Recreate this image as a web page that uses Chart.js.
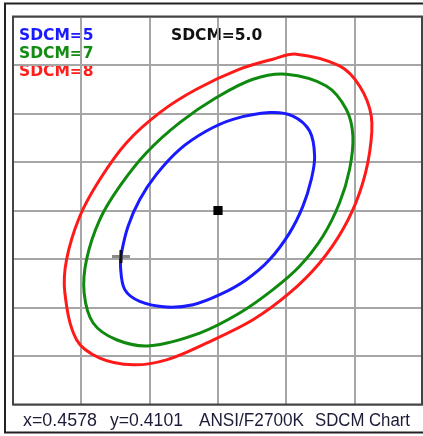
<!DOCTYPE html>
<html>
<head>
<meta charset="utf-8">
<script src="https://cdn.jsdelivr.net/npm/chart.js@4/dist/chart.umd.min.js"></script>
<style>
  html, body { margin: 0; padding: 0; background: #fff; }
  #wrap { width: 423px; height: 436px; }
</style>
</head>
<body>
<div id="wrap"><canvas id="chart" width="423" height="436"></canvas></div>
<script>
// axes are in grid cells, the target point sits at (0, 0)
const footerTexts = ["x=0.4578", "y=0.4101", "ANSI/F2700K", "SDCM Chart"];
const centreLabel = "SDCM=5.0";
const legendLabels = ["SDCM=5", "SDCM=7", "SDCM=8"];
const legendColors = ["#1a1aff", "#148c14", "#ff1e1e"];

const sdcm5X = [0.756, 1.096, 1.341, 1.414, 1.365, 1.243, 1.048, 0.756, 0.415, 0.025, -0.365,
  -0.754, -1.145, -1.364, -1.427, -1.412, -1.316, -1.145, -0.901, -0.560, -0.170, 0.219];
const sdcm5Y = [2.019, 1.948, 1.638, 1.122, 0.640, 0.089, -0.461, -1.012, -1.426, -1.736, -1.942,
  -1.990, -1.874, -1.632, -1.151, -0.874, -0.324, 0.227, 0.744, 1.260, 1.638, 1.880];

const sdcm7X = [1.000, 1.585, 1.877, 1.974, 1.925, 1.779, 1.535, 1.194, 0.804, 0.317, -0.268,
  -0.999, -1.485, -1.827, -1.959, -1.924, -1.730, -1.437, -1.047, -0.560, -0.023, 0.512];
const sdcm7Y = [2.810, 2.568, 2.087, 1.535, 0.847, 0.159, -0.531, -1.151, -1.632, -2.114, -2.527,
  -2.789, -2.665, -2.320, -1.700, -1.012, -0.186, 0.502, 1.192, 1.812, 2.329, 2.707];

const sdcm8X = [1.146, 1.779, 2.072, 2.243, 2.218, 2.072, 1.827, 1.487, 1.048, 0.512, -0.170, -0.754,
  -1.243, -1.730, -2.070, -2.241, -2.216, -2.022, -1.730, -1.339, -0.852, -0.316, 0.317, 0.804];
const sdcm8Y = [3.223, 2.981, 2.568, 1.948, 1.192, 0.366, -0.393, -1.081, -1.700, -2.252, -2.733, -3.079,
  -3.182, -3.043, -2.665, -1.700, -1.012, -0.118, 0.640, 1.399, 2.019, 2.500, 2.913, 3.120];

const targetPoint = [0, 0];
const measuredPoint = [-1.42, -0.95];

function ellipse(xs, ys, color, order) {
  return {
    data: xs.map((x, i) => ({x, y: ys[i]})),
    showLine: true,
    closed: true,
    borderColor: color,
    borderWidth: 3,
    pointRadius: 0,
    tension: 0.35,
    fill: false,
    order,
  };
}

// make the ellipse lines closed loops, like the radar chart does
const closeLoops = {
  id: "closeLoops",
  beforeDatasetDraw(chart, args) {
    const line = args.meta.dataset;
    const ds = chart.data.datasets[args.index];
    if (!line || !ds.closed) return;
    line._loop = true;
    line._fullLoop = true;
    line._pointsUpdated = false;
    line._path = undefined;
    delete line._segments;
    line.updateControlPoints(chart.chartArea, "x");
  },
};

const decorations = {
  id: "decorations",
  beforeDraw(chart) {
    const ctx = chart.ctx;
    ctx.save();
    ctx.font = 'bold 15.5px "DejaVu Sans"';
    legendLabels.forEach((label, i) => {
      ctx.fillStyle = legendColors[i];
      ctx.fillText(label, 19, 40 + i * 18);
    });
    ctx.fillStyle = "#111";
    ctx.fillText(centreLabel, 171, 40);
    ctx.restore();
  },
  afterDraw(chart) {
    const ctx = chart.ctx;
    ctx.save();
    // plot frame
    ctx.strokeStyle = "#444";
    ctx.lineWidth = 2;
    ctx.strokeRect(13, 16.5, 409, 388);
    // outer frame
    ctx.strokeStyle = "#222";
    ctx.beginPath();
    ctx.moveTo(430, 3.5);
    ctx.lineTo(5, 3.5);
    ctx.lineTo(5, 432.5);
    ctx.lineTo(430, 432.5);
    ctx.stroke();
    // footer
    ctx.font = '18px "Liberation Sans"';
    ctx.fillStyle = "#1c1c38";
    const starts = [23, 110, 199, 315];
    const widths = [74, 73, 105, 95];
    footerTexts.forEach((t, i) => ctx.fillText(t, starts[i], 425.5, widths[i]));
    ctx.restore();
  },
};

const gridOpts = {color: "#a6a6a6", lineWidth: 2, drawTicks: false};

new Chart(document.getElementById("chart"), {
  type: "scatter",
  data: {
    datasets: [
      {
        data: [{x: targetPoint[0], y: targetPoint[1]}],
        pointStyle: "rect",
        pointRadius: 6.5,
        backgroundColor: "#000",
        borderWidth: 0,
        order: 0,
      },
      {
        data: [{x: measuredPoint[0], y: measuredPoint[1]}],
        pointStyle: "line",
        pointRadius: 6.5,
        pointRotation: 90,
        borderColor: "#111",
        borderWidth: 3,
        order: 0,
      },
      {
        data: [{x: measuredPoint[0], y: measuredPoint[1]}],
        pointStyle: "line",
        pointRadius: 9,
        borderColor: "#8a8a8a",
        borderWidth: 3,
        order: 0,
      },
      ellipse(sdcm5X, sdcm5Y, "#1a1aff", 1),
      ellipse(sdcm7X, sdcm7Y, "#0f8a0f", 2),
      ellipse(sdcm8X, sdcm8Y, "#ff1a1a", 3),
    ],
  },
  options: {
    responsive: false,
    animation: false,
    events: [],
    layout: {autoPadding: false, padding: {left: 13, top: 16.5, right: 0, bottom: 31.5}},
    plugins: {legend: {display: false}, tooltip: {enabled: false}},
    scales: {
      x: {
        type: "linear", min: -3, max: 3,
        ticks: {display: false, stepSize: 1},
        grid: gridOpts,
        border: {display: false},
      },
      y: {
        type: "linear", min: -4, max: 4,
        ticks: {display: false, stepSize: 1},
        grid: gridOpts,
        border: {display: false},
      },
    },
  },
  plugins: [closeLoops, decorations],
});
</script>
</body>
</html>
